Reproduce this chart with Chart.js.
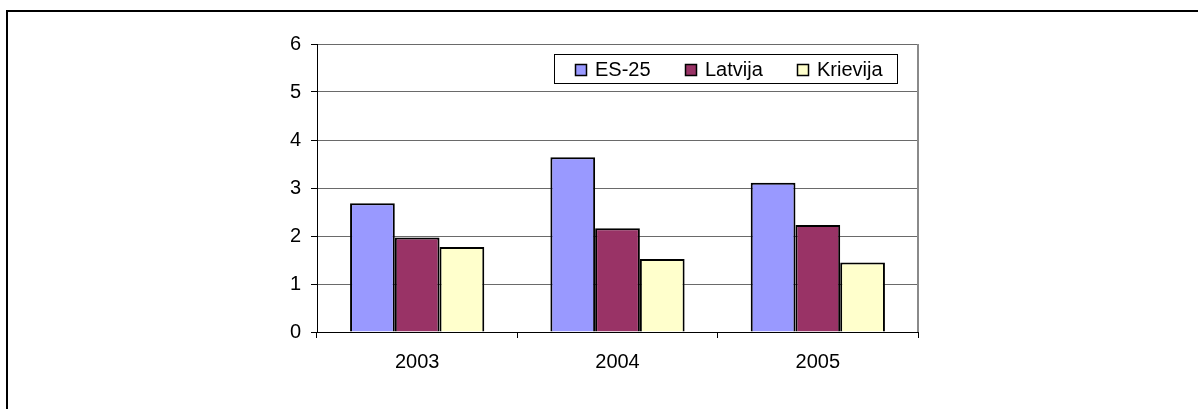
<!DOCTYPE html>
<html>
<head>
<meta charset="utf-8">
<script src="https://cdn.jsdelivr.net/npm/chart.js@4.4.1/dist/chart.umd.min.js"></script>
<style>
    html, body { margin: 0; padding: 0; background: #fff; }
    #wrap { position: relative; width: 1198px; height: 409px; overflow: hidden; }
    #frame { position: absolute; left: 6px; top: 10px; width: 1300px; height: 500px; border: 2px solid #000; box-sizing: border-box; }
    canvas { position: absolute; left: 0; top: 0; }
</style>
</head>
<body>
<div id="wrap">
    <div id="frame"></div>
    <canvas id="barChart" width="1198" height="409"></canvas>
</div>
<script>
// Datos
const anios = ['2003', '2004', '2005'];
const es25 = [2.68, 3.64, 3.11];
const latvija = [1.97, 2.16, 2.23];
const krievija = [1.77, 1.52, 1.45];
const yTicks = [0, 1, 2, 3, 4, 5, 6];

const fuente = 'Arial, "Liberation Sans", sans-serif';

// Leyenda dentro del área del gráfico (como en Excel)
const leyendaCaja = {
    id: 'leyendaCaja',
    afterDraw(chart) {
        const ctx = chart.ctx;
        const x0 = 554, y0 = 54, w = 343, h = 29;
        ctx.save();
        ctx.fillStyle = '#fff';
        ctx.fillRect(x0, y0, w, h);
        ctx.strokeStyle = '#000';
        ctx.lineWidth = 1;
        ctx.strokeRect(x0 + 0.5, y0 + 0.5, w, h);
        const posiciones = [575, 685, 797];
        ctx.font = '20px ' + fuente;
        ctx.textBaseline = 'middle';
        chart.data.datasets.forEach((ds, i) => {
            const px = posiciones[i];
            ctx.fillStyle = ds.backgroundColor;
            ctx.fillRect(px, y0 + 10, 11, 11);
            ctx.strokeStyle = '#000';
            ctx.lineWidth = 1.5;
            ctx.strokeRect(px + 0.5, y0 + 10.5, 11, 11);
            ctx.fillStyle = '#000';
            ctx.fillText(ds.label, px + 20, y0 + 16);
        });
        ctx.restore();
    }
};

// Borde derecho gris del área de trazado
const bordeDerecho = {
    id: 'bordeDerecho',
    beforeDatasetsDraw(chart) {
        const { ctx, chartArea } = chart;
        ctx.save();
        ctx.strokeStyle = '#8a8a8a';
        ctx.lineWidth = 2;
        ctx.beginPath();
        ctx.moveTo(chartArea.right, chartArea.top);
        ctx.lineTo(chartArea.right, chartArea.bottom);
        ctx.stroke();
        ctx.restore();
    }
};

const canvas = document.getElementById('barChart');

new Chart(canvas, {
    type: 'bar',
    data: {
        labels: anios,
        datasets: [
            { label: 'ES-25', data: es25, backgroundColor: '#9999FF', borderColor: '#000', borderWidth: 2 },
            { label: 'Latvija', data: latvija, backgroundColor: '#993366', borderColor: '#000', borderWidth: 2 },
            { label: 'Krievija', data: krievija, backgroundColor: '#FFFFCC', borderColor: '#000', borderWidth: 2 }
        ]
    },
    options: {
        responsive: false,
        animation: false,
        categoryPercentage: 0.67,
        barPercentage: 1,
        layout: { padding: { left: 0, top: 44, right: 280, bottom: 0 } },
        scales: {
            x: {
                grid: { drawOnChartArea: false, drawTicks: true, tickLength: 6, tickColor: '#000', offset: true },
                border: { color: '#000', width: 1 },
                ticks: { color: '#000', font: { family: fuente, size: 20 }, padding: 12, maxRotation: 0 },
                afterFit: (scale) => { scale.height = 77; }
            },
            y: {
                min: 0,
                max: 6,
                afterBuildTicks: (scale) => { scale.ticks = yTicks.map(v => ({ value: v })); },
                grid: { color: '#6a6a6a', lineWidth: 1, tickLength: 6, tickColor: '#000' },
                border: { color: '#000', width: 1 },
                ticks: { color: '#000', font: { family: fuente, size: 20 }, padding: 10 },
                afterFit: (scale) => { scale.width = 317; }
            }
        },
        plugins: {
            legend: { display: false },
            tooltip: { enabled: false }
        }
    },
    plugins: [bordeDerecho, leyendaCaja]
});
</script>
</body>
</html>
